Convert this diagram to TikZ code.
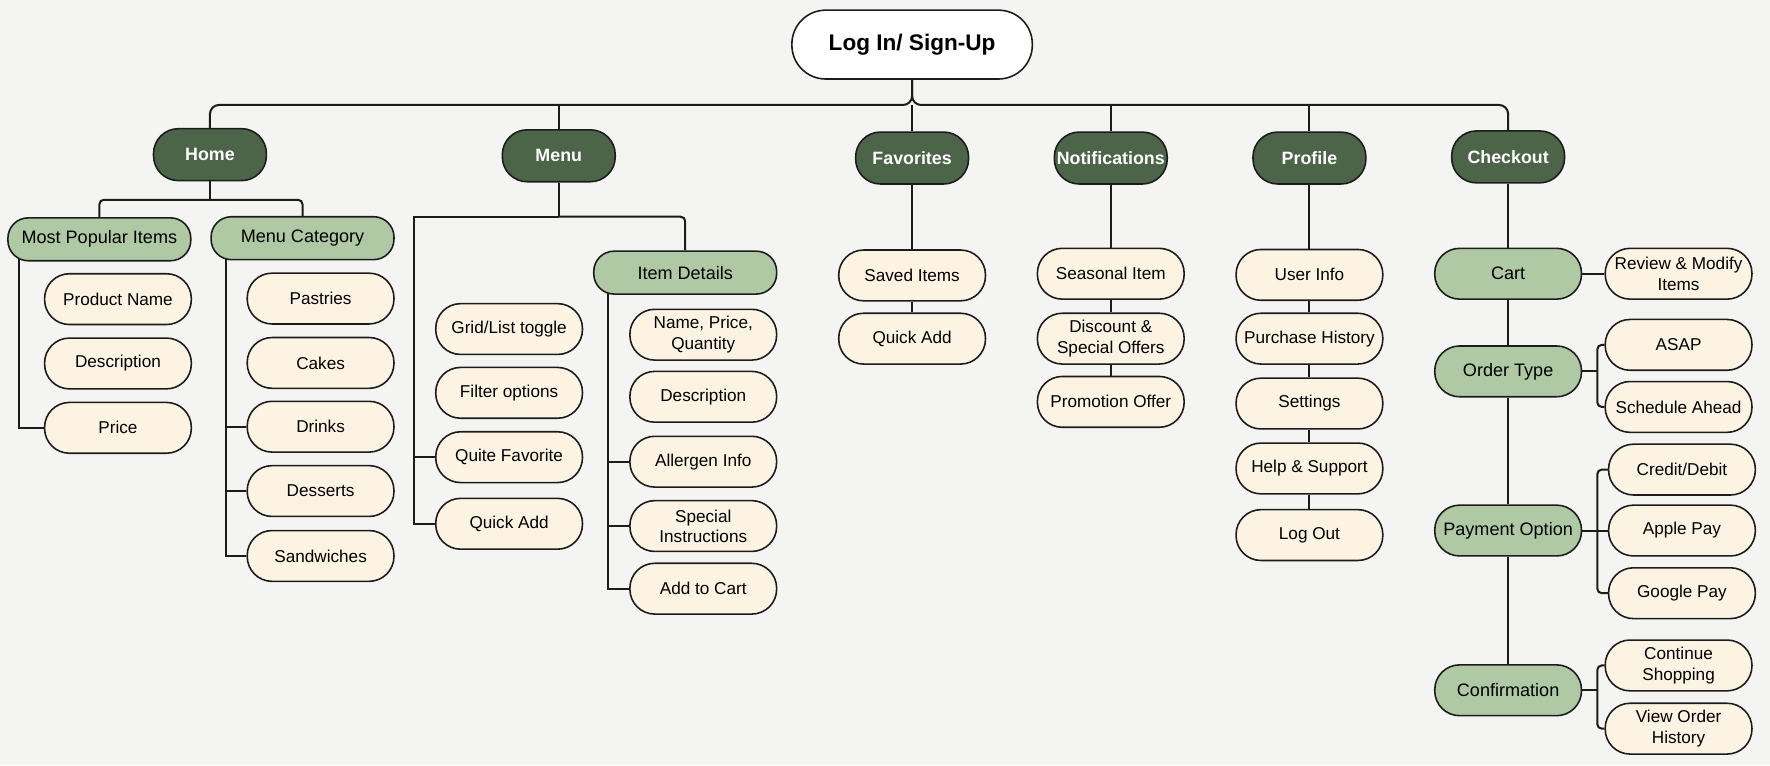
\documentclass[tikz,border=0pt]{standalone}
\usepackage{fontspec}
\setmainfont{Liberation Sans}
\usetikzlibrary{backgrounds}

\definecolor{paper}{HTML}{F4F4F2}
\definecolor{forest}{HTML}{4C6447}
\definecolor{sage}{HTML}{B0C9A5}
\definecolor{cream}{HTML}{FCF3E3}
\definecolor{ink}{HTML}{1C1C1C}

\begin{document}
\begin{tikzpicture}[x=0.5pt,y=-0.5pt,
  rootbox/.style={draw=ink,line width=0.7pt,fill=white,rounded corners=15pt,minimum width=106.5pt,minimum height=30.5pt,font=\fontsize{10}{12}\selectfont\bfseries},
  mainbox/.style={draw=ink,line width=0.7pt,fill=forest,text=white,rounded corners=11pt,minimum width=50pt,minimum height=23pt,inner sep=0pt,font=\fontsize{7.9}{9.5}\selectfont\bfseries},
  widebox/.style={draw=ink,line width=0.7pt,fill=sage,rounded corners=9pt,minimum width=81pt,minimum height=19pt,inner sep=0pt,font=\fontsize{8}{9.5}\selectfont},
  groupbox/.style={draw=ink,line width=0.7pt,fill=sage,rounded corners=11pt,minimum width=65pt,minimum height=22.5pt,inner sep=0pt,font=\fontsize{8}{9.5}\selectfont},
  itembox/.style={draw=ink,line width=0.7pt,fill=cream,rounded corners=11pt,minimum width=65pt,minimum height=22.5pt,inner sep=0pt,align=center,font=\fontsize{7.6}{9}\selectfont},
  link/.style={draw=ink,line width=0.9pt}]

% top level
\node[rootbox] (login) at (808, 39.5) {Log In/ Sign-Up};
\node[mainbox] (home) at (186, 137) {Home};
\node[mainbox] (menu) at (495, 138) {Menu};
\node[mainbox] (favorites) at (808, 140) {Favorites};
\node[mainbox] (notifications) at (984, 140) {Notifications};
\node[mainbox] (profile) at (1160, 140) {Profile};
\node[mainbox] (checkout) at (1336, 139) {Checkout};

% home
\node[widebox] (popular) at (88, 212) {Most Popular Items};
\node[widebox] (category) at (268, 211) {Menu Category};
\node[itembox] (productname) at (104.5, 265) {Product Name};
\node[itembox] (description) at (104.5, 322) {Description};
\node[itembox] (price) at (104.5, 379) {Price};
\node[itembox] (pastries) at (284, 264.5) {Pastries};
\node[itembox] (cakes) at (284, 321.5) {Cakes};
\node[itembox] (drinks) at (284, 378) {Drinks};
\node[itembox] (desserts) at (284, 435) {Desserts};
\node[itembox] (sandwiches) at (284, 492.5) {Sandwiches};

% menu
\node[widebox] (details) at (607, 241.5) {Item Details};
\node[itembox] (gridlist) at (451, 291.5) {Grid/List toggle};
\node[itembox] (filter) at (451, 348) {Filter options};
\node[itembox] (quitefav) at (451, 405) {Quite Favorite};
\node[itembox] (menuquick) at (451, 464) {Quick Add};
\node[itembox] (nameprice) at (623, 296.5) {Name, Price,\\Quantity};
\node[itembox] (itemdesc) at (623, 351.5) {Description};
\node[itembox] (allergen) at (623, 409) {Allergen Info};
\node[itembox] (special) at (623, 466) {Special\\Instructions};
\node[itembox] (addcart) at (623, 521.5) {Add to Cart};

% favorites
\node[itembox] (saved) at (808, 244) {Saved Items};
\node[itembox] (favquick) at (808, 300) {Quick Add};

% notifications
\node[itembox] (seasonal) at (984, 242.5) {Seasonal Item};
\node[itembox] (discount) at (984, 300) {Discount \&\\Special Offers};
\node[itembox] (promotion) at (984, 356) {Promotion Offer};

% profile
\node[itembox] (userinfo) at (1160, 243.5) {User Info};
\node[itembox] (history) at (1160, 300) {Purchase History};
\node[itembox] (settings) at (1160, 357.5) {Settings};
\node[itembox] (help) at (1160, 415) {Help \& Support};
\node[itembox] (logout) at (1160, 474) {Log Out};

% checkout
\node[groupbox] (cart) at (1336, 242.5) {Cart};
\node[groupbox] (ordertype) at (1336, 329) {Order Type};
\node[groupbox] (payment) at (1336, 470) {Payment Option};
\node[groupbox] (confirm) at (1336, 611.5) {Confirmation};
\node[itembox] (review) at (1487, 242.5) {Review \& Modify\\Items};
\node[itembox] (asap) at (1487, 305.5) {ASAP};
\node[itembox] (schedule) at (1487, 360.5) {Schedule Ahead};
\node[itembox] (credit) at (1490, 416) {Credit/Debit};
\node[itembox] (apple) at (1490, 470) {Apple Pay};
\node[itembox] (google) at (1490, 525.5) {Google Pay};
\node[itembox] (continue) at (1487, 589.5) {Continue\\Shopping};
\node[itembox] (vieworder) at (1487, 645.5) {View Order\\History};

\coordinate (bus) at (808, 93);
\coordinate (homejoin) at (186, 177);
\coordinate (popleft) at (17, 224);
\coordinate (catleft) at (200, 222);
\coordinate (menujoin) at (495, 192);
\coordinate (menuleft) at (367, 192);
\coordinate (detleft) at (539, 252);
\coordinate (orderjoin) at (1415, 329);
\coordinate (payjoin) at (1415, 470);
\coordinate (confjoin) at (1415, 611.5);

\begin{scope}[on background layer]
\fill[paper] (0, 0) rectangle (1568, 678);

\draw[link, rounded corners=4pt] (login.south) -- (bus) -| (home.north);
\draw[link, rounded corners=4pt] (login.south) -- (bus) -| (checkout.north);
\draw[link] (bus) -- (favorites.north);
\draw[link] (menu.north) -- (menu.north |- bus);
\draw[link] (notifications.north) -- (notifications.north |- bus);
\draw[link] (profile.north) -- (profile.north |- bus);

\draw[link] (home.south) -- (homejoin);
\draw[link, rounded corners=2pt] (popular.north) |- (homejoin) -| (category.north);
\draw[link] (popleft) |- (price.west);
\draw[link] (catleft) |- (sandwiches.west);
\draw[link] (drinks.west) -- (drinks.west -| catleft);
\draw[link] (desserts.west) -- (desserts.west -| catleft);

\draw[link] (menu.south) -- (menujoin);
\draw[link, rounded corners=2pt] (menujoin) -| (details.north);
\draw[link] (menujoin) -- (menuleft) |- (menuquick.west);
\draw[link] (quitefav.west) -- (quitefav.west -| menuleft);
\draw[link] (detleft) |- (addcart.west);
\draw[link] (allergen.west) -- (allergen.west -| detleft);
\draw[link] (special.west) -- (special.west -| detleft);

\draw[link] (favorites) -- (saved);
\draw[link] (saved) -- (favquick);

\draw[link] (notifications) -- (seasonal);
\draw[link] (seasonal) -- (discount);
\draw[link] (discount) -- (promotion);

\draw[link] (profile) -- (userinfo);
\draw[link] (userinfo) -- (history);
\draw[link] (history) -- (settings);
\draw[link] (settings) -- (help);
\draw[link] (help) -- (logout);

\draw[link] (checkout) -- (cart);
\draw[link] (cart) -- (ordertype);
\draw[link] (ordertype) -- (payment);
\draw[link] (payment) -- (confirm);
\draw[link] (cart) -- (review);
\draw[link] (ordertype.east) -- (orderjoin);
\draw[link, rounded corners=2pt] (asap.west) -| (orderjoin) |- (schedule.west);
\draw[link] (payment.east) -- (apple.west);
\draw[link, rounded corners=2pt] (credit.west) -| (payjoin) |- (google.west);
\draw[link] (confirm.east) -- (confjoin);
\draw[link, rounded corners=2pt] (continue.west) -| (confjoin) |- (vieworder.west);
\end{scope}

\end{tikzpicture}
\end{document}
